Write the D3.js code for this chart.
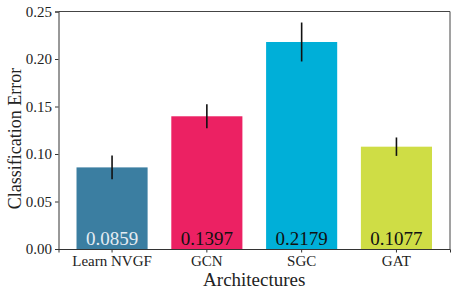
<!DOCTYPE html>
<html>
<head>
<meta charset="utf-8">
<script src="https://cdn.jsdelivr.net/npm/d3@7"></script>
<style>
  body { margin: 0; background: #fff; }
</style>
</head>
<body>
<figure id="bar" style="margin:0"></figure>
<script>
// data
const architectures = ["Learn NVGF", "GCN", "SGC", "GAT"];
const errors = [0.0859, 0.1397, 0.2179, 0.1077];
const stdErr = [0.0126, 0.0127, 0.0205, 0.0097];
const barColors = ["#3b7ea1", "#ec2163", "#00afd8", "#cfdd45"];
const labelColors = ["#e4ecf3", "#111", "#111", "#111"];
const yTicks = [0, 0.05, 0.10, 0.15, 0.20, 0.25];

const FONT = '"Liberation Serif", "DejaVu Serif", serif';
const W = 457, H = 296;
const margin = { left: 58.5, right: 7, top: 11.5, bottom: 47 };
const width = W - margin.left - margin.right;
const height = H - margin.top - margin.bottom;

const svg = d3.select("figure#bar")
  .append("svg")
  .attr("width", W)
  .attr("height", H)
  .style("font-family", FONT)
  .append("g")
  .attr("transform", "translate(" + margin.left + "," + margin.top + ")");

const x = d3.scaleBand()
  .range([0, width])
  .domain(architectures)
  .paddingInner(0.25)
  .paddingOuter(0.19);

const y = d3.scaleLinear()
  .domain([0, 0.25])
  .range([height, 0]);

// bars
svg.selectAll(".bar")
  .data(architectures)
  .enter()
  .append("rect")
  .attr("x", d => x(d))
  .attr("y", (d, i) => y(errors[i]))
  .attr("width", x.bandwidth())
  .attr("height", (d, i) => height - y(errors[i]))
  .attr("fill", (d, i) => barColors[i]);

// error bars
svg.selectAll(".err")
  .data(architectures)
  .enter()
  .append("line")
  .attr("x1", d => x(d) + x.bandwidth() / 2)
  .attr("x2", d => x(d) + x.bandwidth() / 2)
  .attr("y1", (d, i) => y(errors[i] + stdErr[i]))
  .attr("y2", (d, i) => y(errors[i] - stdErr[i]))
  .attr("stroke", "#111")
  .attr("stroke-width", 1.6);

// value labels inside bars
svg.selectAll(".val")
  .data(architectures)
  .enter()
  .append("text")
  .attr("x", d => x(d) + x.bandwidth() / 2)
  .attr("y", height - 4)
  .attr("text-anchor", "middle")
  .style("font-family", FONT)
  .style("font-size", "19px")
  .attr("fill", (d, i) => labelColors[i])
  .text((d, i) => errors[i].toFixed(4));

// axes
const xAxis = svg.append("g")
  .attr("transform", "translate(0," + height + ")")
  .call(d3.axisBottom(x).tickSizeOuter(0).tickSize(3.5).tickPadding(3));
xAxis.attr("font-family", null);
xAxis.selectAll("text").style("font-family", FONT).style("font-size", "15px").attr("fill", "#222");

const yAxis = svg.append("g")
  .call(d3.axisLeft(y).tickValues(yTicks).tickFormat(d3.format(".2f")).tickSizeOuter(0).tickSize(3.5).tickPadding(3));
yAxis.attr("font-family", null);
yAxis.selectAll("text").style("font-family", FONT).style("font-size", "15px").attr("fill", "#222");
svg.selectAll(".domain").attr("stroke", "#333").attr("stroke-width", 1);
svg.selectAll(".tick line").attr("stroke", "#333");

// top and right spines
svg.append("line").attr("x1", 0).attr("x2", width).attr("y1", 0).attr("y2", 0)
  .attr("stroke", "#444").attr("stroke-width", 1);
svg.append("line").attr("x1", width).attr("x2", width).attr("y1", 0).attr("y2", height)
  .attr("stroke", "#444").attr("stroke-width", 1);

// axis titles
svg.append("text")
  .attr("x", width / 2)
  .attr("y", height + 37)
  .attr("text-anchor", "middle")
  .style("font-family", FONT)
  .style("font-size", "19px")
  .attr("fill", "#222")
  .text("Architectures");

svg.append("text")
  .attr("transform", "translate(" + (-38) + "," + 127 + ")rotate(-90)")
  .attr("text-anchor", "middle")
  .style("font-family", FONT)
  .style("font-size", "18px")
  .attr("fill", "#222")
  .text("Classification Error");
</script>
</body>
</html>
